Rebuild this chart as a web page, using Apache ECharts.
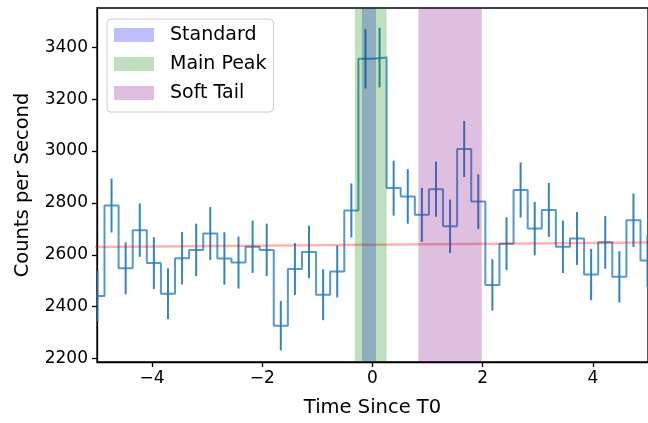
<!DOCTYPE html>
<html>
<head>
<meta charset="utf-8">
<script src="https://cdn.jsdelivr.net/npm/echarts@6/dist/echarts.min.js"></script>
<style>
  html, body { margin: 0; padding: 0; background: #fff; }
  #chart { width: 648px; height: 423px; }
</style>
</head>
<body>
<div id="chart"></div>
<script>
// Light curve: binned count rate (0.256 s bins) with Poisson errors
const binWidth = 0.256;
const binCenters = [
  -4.992, -4.736, -4.48, -4.224, -3.968, -3.712, -3.456, -3.2, -2.944, -2.688,
  -2.432, -2.176, -1.92, -1.664, -1.408, -1.152, -0.896, -0.64, -0.384, -0.128,
  0.128, 0.384, 0.64, 0.896, 1.152, 1.408, 1.664, 1.92, 2.176, 2.432,
  2.688, 2.944, 3.2, 3.456, 3.712, 3.968, 4.224, 4.48, 4.736, 4.992
];
const rates = [
  2441, 2790, 2548, 2695, 2568, 2450, 2587, 2619, 2682, 2586,
  2570, 2631, 2619, 2327, 2545, 2611, 2446, 2536, 2771, 3355,
  3360, 2857, 2825, 2754, 2853, 2710, 3008, 2805, 2484, 2643,
  2850, 2701, 2773, 2631, 2663, 2524, 2648, 2515, 2733, 2578
];
const rateErrors = [
  98, 104, 100, 103, 100, 98, 101, 101, 102, 101,
  100, 101, 101, 95, 100, 101, 98, 100, 104, 114,
  115, 106, 105, 104, 106, 103, 108, 105, 99, 102,
  106, 103, 104, 101, 102, 99, 102, 99, 103, 100
];

// Background model
const bkgdTimes = [-5.12, 0, 5.12];
const bkgdRates = [2630, 2639, 2648];

// Time selections
const spanNames = ['Standard', 'Main Peak', 'Soft Tail'];
const spanStart = [-0.192, -0.32, 0.832];
const spanEnd = [0.064, 0.256, 1.984];
const spanColors = ['rgba(0,0,255,0.25)', 'rgba(0,128,0,0.25)', 'rgba(128,0,128,0.25)'];

// Axis ticks
const xTicks = [-4, -2, 0, 2, 4];
const yTicks = [2200, 2400, 2600, 2800, 3000, 3200, 3400];
const xRange = [-5, 5];
const yRange = [2187, 3551];

const FONT = 'DejaVu Sans';
const minusFmt = v => (v < 0 ? '\u2212' + Math.abs(v) : String(v));

// step outline through bin edges
const stepData = binCenters.map((c, i) => [c - binWidth / 2, rates[i]]);
stepData.push([binCenters[binCenters.length - 1] + binWidth / 2, rates[rates.length - 1]]);

const errData = binCenters.map((c, i) => [c, rates[i], rateErrors[i]]);

const spanSeries = spanNames.map((name, i) => ({
  name: name,
  type: 'custom',
  z: 5,
  clip: true,
  itemStyle: { color: spanColors[i] },
  encode: { x: [0, 1] },
  data: [[spanStart[i], spanEnd[i]]],
  renderItem: function (params, api) {
    const cs = params.coordSys;
    const a = api.coord([api.value(0), yRange[1]]);
    const b = api.coord([api.value(1), yRange[0]]);
    return {
      type: 'rect',
      shape: { x: a[0], y: cs.y, width: b[0] - a[0], height: cs.height },
      style: { fill: spanColors[i] }
    };
  }
}));

const chart = echarts.init(document.getElementById('chart'), null, { renderer: 'canvas' });
chart.setOption({
  animation: false,
  backgroundColor: '#ffffff',
  textStyle: { fontFamily: FONT },
  grid: {
    left: 97, top: 8, width: 553, height: 358.5,
    show: true, borderColor: '#000', borderWidth: 1.3, backgroundColor: 'transparent'
  },
  legend: {
    data: spanNames,
    orient: 'vertical',
    left: 107, top: 19,
    icon: 'rect',
    itemWidth: 40, itemHeight: 14,
    itemGap: 7,
    padding: [5, 7, 8, 7],
    backgroundColor: 'rgba(255,255,255,0.8)',
    borderColor: '#cccccc', borderWidth: 1, borderRadius: 4,
    z: 20,
    selectedMode: false,
    textStyle: { fontFamily: FONT, fontSize: 19, color: '#000', lineHeight: 22, padding: [0, 0, 0, 11] }
  },
  xAxis: {
    type: 'value',
    min: xRange[0], max: xRange[1],
    name: 'Time Since T0',
    nameLocation: 'middle',
    nameGap: 36,
    nameTextStyle: { fontFamily: FONT, fontSize: 19.5, color: '#000' },
    axisLine: { show: true, onZero: false, lineStyle: { color: '#000', width: 1.3 } },
    axisTick: { show: true, length: 5, customValues: xTicks, lineStyle: { color: '#000', width: 1.3 } },
    axisLabel: { customValues: xTicks, formatter: minusFmt, fontSize: 17, color: '#000', margin: 8, fontFamily: FONT },
    splitLine: { show: false }
  },
  yAxis: {
    type: 'value',
    min: yRange[0], max: yRange[1],
    name: 'Counts per Second',
    nameLocation: 'middle',
    nameRotate: 90,
    nameGap: 64,
    nameTextStyle: { fontFamily: FONT, fontSize: 19.5, color: '#000' },
    axisLine: { show: true, onZero: false, lineStyle: { color: '#000', width: 1.3 } },
    axisTick: { show: true, length: 5, customValues: yTicks, lineStyle: { color: '#000', width: 1.3 } },
    axisLabel: { customValues: yTicks, formatter: v => String(v), fontSize: 17, color: '#000', margin: 9, fontFamily: FONT },
    splitLine: { show: false }
  },
  series: [
    {
      name: 'Rate',
      type: 'line',
      step: 'end',
      z: 2,
      showSymbol: false,
      clip: true,
      data: stepData,
      lineStyle: { color: '#1f77b4', width: 2, opacity: 0.75 },
      itemStyle: { color: '#1f77b4' }
    },
    {
      name: 'Errors',
      type: 'custom',
      z: 2,
      clip: true,
      data: errData,
      encode: { x: 0, y: 1 },
      renderItem: function (params, api) {
        const x = api.value(0), y = api.value(1), e = api.value(2);
        const p1 = api.coord([x, y - e]);
        const p2 = api.coord([x, y + e]);
        return {
          type: 'line',
          shape: { x1: p1[0], y1: p1[1], x2: p2[0], y2: p2[1] },
          style: { stroke: '#1f77b4', lineWidth: 2, opacity: 0.9 }
        };
      }
    },
    {
      name: 'Background',
      type: 'line',
      z: 3,
      showSymbol: false,
      clip: true,
      data: bkgdTimes.map((t, i) => [t, bkgdRates[i]]),
      lineStyle: { color: 'rgba(255,0,0,0.3)', width: 2.5 },
      itemStyle: { color: 'rgba(255,0,0,0.3)' }
    }
  ].concat(spanSeries)
});
</script>
</body>
</html>
